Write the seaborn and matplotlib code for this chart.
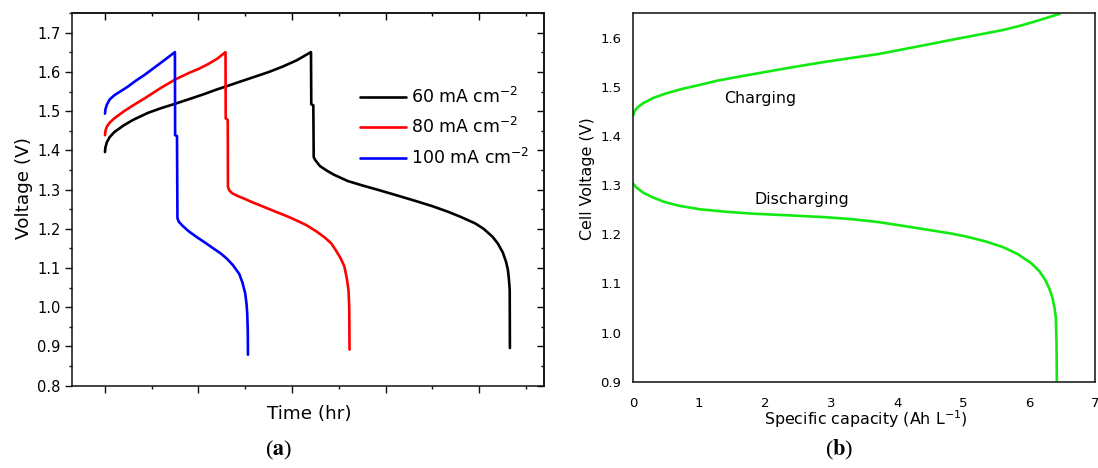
import numpy as np
import pandas as pd
import matplotlib
matplotlib.use('Agg')
import matplotlib.pyplot as plt
import seaborn as sns
from matplotlib.ticker import MultipleLocator, FormatStrFormatter, NullFormatter

# ---------------- Panel (a) data: voltage vs time ----------------
t60 = [0.0, 0.005, 0.02, 0.05, 0.1, 0.2, 0.3, 0.46, 0.6, 0.748, 0.9, 1.05, 1.2, 1.289,
       1.4, 1.55, 1.75, 1.9, 2.05, 2.203,
       2.206, 2.228, 2.232, 2.25, 2.3, 2.376, 2.45, 2.597, 2.75, 2.928, 3.1, 3.297,
       3.5, 3.665, 3.8, 3.959, 4.05, 4.144, 4.2, 4.254, 4.29, 4.309, 4.32, 4.328, 4.33]
v60 = [1.396, 1.408, 1.421, 1.434, 1.447, 1.464, 1.478, 1.496, 1.508, 1.519, 1.531, 1.543,
       1.556, 1.563, 1.572, 1.584, 1.600, 1.614, 1.630, 1.651,
       1.518, 1.515, 1.383, 1.375, 1.360, 1.348, 1.338, 1.322, 1.311, 1.299, 1.287, 1.273,
       1.258, 1.244, 1.231, 1.214, 1.200, 1.180, 1.163, 1.140, 1.115, 1.095, 1.070, 1.044,
       0.896]

t80 = [0.0, 0.005, 0.02, 0.05, 0.1, 0.203, 0.3, 0.424, 0.6, 0.75, 0.9, 1.0, 1.1, 1.2, 1.289,
       1.291, 1.313, 1.315, 1.33, 1.36, 1.418, 1.5, 1.565, 1.7, 1.823, 1.95, 2.044, 2.15,
       2.265, 2.35, 2.42, 2.47, 2.52, 2.56, 2.585, 2.604, 2.612, 2.615]
v80 = [1.439, 1.450, 1.461, 1.471, 1.482, 1.500, 1.515, 1.533, 1.560, 1.581, 1.598, 1.608,
       1.620, 1.634, 1.651,
       1.482, 1.478, 1.307, 1.298, 1.291, 1.284, 1.276, 1.269, 1.256, 1.244, 1.232, 1.222,
       1.210, 1.193, 1.178, 1.163, 1.145, 1.125, 1.104, 1.075, 1.044, 1.000, 0.892]

t100 = [0.0, 0.005, 0.02, 0.05, 0.1, 0.18, 0.239, 0.33, 0.424, 0.571, 0.66, 0.748,
        0.750, 0.770, 0.775, 0.79, 0.81, 0.829, 0.9, 0.976, 1.07, 1.16, 1.24, 1.308,
        1.37, 1.436, 1.47, 1.499, 1.513, 1.521, 1.527, 1.529]
v100 = [1.494, 1.505, 1.517, 1.530, 1.541, 1.553, 1.562, 1.578, 1.593, 1.619, 1.635, 1.651,
        1.439, 1.437, 1.227, 1.218, 1.213, 1.208, 1.193, 1.180, 1.165, 1.150, 1.137, 1.123,
        1.107, 1.085, 1.063, 1.036, 1.010, 0.985, 0.940, 0.879]

series_labels = ['60 mA cm$^{-2}$', '80 mA cm$^{-2}$', '100 mA cm$^{-2}$']
series_colors = ['#000000', '#ff0000', '#0000ff']

# ---------------- Panel (b) data: cell voltage vs capacity ----------------
cap_charge = [0.0, 0.02, 0.07, 0.15, 0.31, 0.5, 0.74, 1.0, 1.28, 1.6, 1.98, 2.4, 2.9, 3.3,
              3.71, 4.1, 4.52, 4.9, 5.33, 5.6, 5.87, 6.15, 6.46]
v_charge = [1.442, 1.451, 1.459, 1.467, 1.478, 1.487, 1.496, 1.504, 1.513, 1.521, 1.530,
            1.540, 1.551, 1.559, 1.567, 1.577, 1.588, 1.598, 1.609, 1.616, 1.625, 1.636, 1.649]

cap_dis = [0.0, 0.05, 0.15, 0.3, 0.47, 0.7, 1.01, 1.4, 1.82, 2.3, 2.9, 3.3, 3.71, 4.1, 4.52,
           4.8, 5.06, 5.35, 5.6, 5.82, 6.03, 6.15, 6.24, 6.30, 6.35, 6.38, 6.40, 6.41, 6.415]
v_dis = [1.303, 1.295, 1.285, 1.275, 1.266, 1.258, 1.251, 1.246, 1.242, 1.239, 1.235, 1.231,
         1.225, 1.217, 1.208, 1.202, 1.195, 1.185, 1.174, 1.160, 1.141, 1.125, 1.107, 1.090,
         1.070, 1.050, 1.030, 0.980, 0.900]

green = '#11ea11'

# ---------------- Style ----------------
sns.set_style('white')
plt.rcParams['font.family'] = ['DejaVu Sans']
plt.rcParams['text.color'] = 'black'
plt.rcParams['axes.labelcolor'] = 'black'
plt.rcParams['xtick.color'] = 'black'
plt.rcParams['ytick.color'] = 'black'
plt.rcParams['axes.edgecolor'] = '#111111'
plt.rcParams['axes.linewidth'] = 1.1

fig = plt.figure(figsize=(10.98, 4.68), dpi=100)
axA = fig.add_axes([0.0658, 0.1759, 0.4301, 0.7957])
axB = fig.add_axes([0.5767, 0.1844, 0.4210, 0.7872])

# ---------------- Panel (a) ----------------
frames = []
for lab, t, v in zip(series_labels, [t60, t80, t100], [v60, v80, v100]):
    frames.append(pd.DataFrame({'Time': t, 'Voltage': v, 'Series': lab}))
dfA = pd.concat(frames, ignore_index=True)
sns.lineplot(data=dfA, x='Time', y='Voltage', hue='Series', hue_order=series_labels,
             palette=dict(zip(series_labels, series_colors)), sort=False,
             estimator=None, linewidth=1.9, ax=axA)

axA.set_xlim(-0.35, 4.70)
axA.set_ylim(0.8, 1.75)
axA.xaxis.set_major_locator(MultipleLocator(1.0))
axA.xaxis.set_minor_locator(MultipleLocator(0.5))
axA.xaxis.set_major_formatter(NullFormatter())
axA.yaxis.set_major_locator(MultipleLocator(0.1))
axA.yaxis.set_minor_locator(MultipleLocator(0.05))
axA.yaxis.set_major_formatter(FormatStrFormatter('%.1f'))
axA.tick_params(which='both', bottom=True, left=True, top=False, right=False)
axA.tick_params(which='major', direction='out', length=5, width=1.0, labelsize=10.5,
                pad=3.5, color='#111111')
axA.tick_params(which='minor', direction='out', length=2.5, width=1.0, color='#111111')
axA.tick_params(axis='x', labelbottom=False)
for s in axA.spines.values():
    s.set_visible(True)
    s.set_linewidth(1.1)

secx = axA.secondary_xaxis('top')
secx.xaxis.set_major_locator(MultipleLocator(1.0))
secx.xaxis.set_minor_locator(MultipleLocator(0.5))
secx.tick_params(which='both', top=True)
secx.tick_params(which='major', direction='in', length=5, width=1.0, labeltop=False)
secx.tick_params(which='minor', direction='in', length=2.5, width=1.0, labeltop=False)
secy = axA.secondary_yaxis('right')
secy.yaxis.set_major_locator(MultipleLocator(0.1))
secy.yaxis.set_minor_locator(MultipleLocator(0.05))
secy.tick_params(which='both', right=True)
secy.tick_params(which='major', direction='in', length=5, width=1.0, labelright=False)
secy.tick_params(which='minor', direction='in', length=2.5, width=1.0, labelright=False)

axA.set_xlabel('Time (hr)', fontsize=13.2)
axA.set_ylabel('Voltage (V)', fontsize=13.2)
axA.xaxis.set_label_coords(0.501, -0.052)
axA.yaxis.set_label_coords(-0.083, 0.53)

handles, labels = axA.get_legend_handles_labels()
axA.legend(handles, labels, loc='upper left', bbox_to_anchor=(0.328, 0.815),
           bbox_transform=fig.transFigure, frameon=False, fontsize=12.5,
           handlelength=2.65, handletextpad=0.3, labelspacing=0.6,
           borderpad=0, borderaxespad=0)

# ---------------- Panel (b) ----------------
dfC = pd.DataFrame({'Capacity': cap_charge, 'Cell Voltage': v_charge})
dfD = pd.DataFrame({'Capacity': cap_dis, 'Cell Voltage': v_dis})
sns.lineplot(data=dfC, x='Capacity', y='Cell Voltage', color=green, sort=False,
             estimator=None, linewidth=1.9, ax=axB, legend=False)
sns.lineplot(data=dfD, x='Capacity', y='Cell Voltage', color=green, sort=False,
             estimator=None, linewidth=1.9, ax=axB, legend=False)
axB.set_xlim(0, 7)
axB.set_ylim(0.9, 1.65)
axB.xaxis.set_major_locator(MultipleLocator(1))
axB.yaxis.set_major_locator(MultipleLocator(0.1))
axB.xaxis.set_major_formatter(FormatStrFormatter('%d'))
axB.yaxis.set_major_formatter(FormatStrFormatter('%.1f'))
axB.tick_params(axis='x', length=0, labelsize=9.5, pad=11)
axB.tick_params(axis='y', length=0, labelsize=9.5, pad=8.5)
for s in axB.spines.values():
    s.set_visible(True)
    s.set_linewidth(1.2)
    s.set_color('#222222')
axB.set_xlabel('Specific capacity (Ah L$^{-1}$)', fontsize=11.4)
axB.set_ylabel('Cell Voltage (V)', fontsize=11.4)
axB.xaxis.set_label_coords(0.503, -0.072)
axB.yaxis.set_label_coords(-0.083, 0.552)
axB.text(1.38, 1.477, 'Charging', fontsize=11.4, ha='left', va='center')
axB.text(1.83, 1.271, 'Discharging', fontsize=11.4, ha='left', va='center')

# ---------------- Panel letters ----------------
fig.text(279 / 1098, 1 - 450 / 468, '($\\mathbf{a}$)', family='Liberation Serif',
         math_fontfamily='stix', fontsize=16, ha='center', va='center')
fig.text(839 / 1098, 1 - 450 / 468, '($\\mathbf{b}$)', family='Liberation Serif',
         math_fontfamily='stix', fontsize=16, ha='center', va='center')

fig.savefig('out.png', dpi=100)
